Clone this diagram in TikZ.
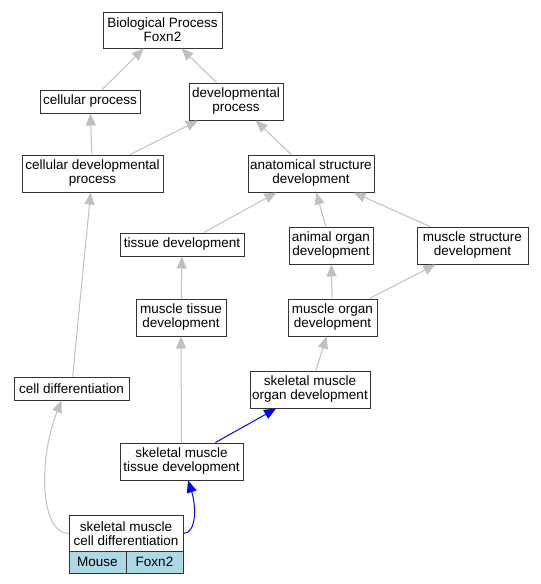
\documentclass[tikz,border=0pt]{standalone}
\usepackage{fontspec}
\setmainfont{Liberation Sans}
\usetikzlibrary{arrows.meta}

\definecolor{edgegray}{RGB}{192,192,192}
\definecolor{lightblue}{RGB}{173,216,230}

\tikzset{
    term/.style={draw=black!80, line width=1pt, rectangle, align=center, inner sep=0pt,
        font=\fontsize{13.5}{14}\selectfont},
    isa/.style={->, edgegray, line width=1pt},
    hit/.style={->, blue, line width=1pt},
}

\begin{document}
\begin{tikzpicture}[x=1pt, y=-1pt]

    \useasboundingbox (0,0) rectangle (541,584);

    \node[term, minimum width=119, minimum height=36] (bio) at (162.5,30) {Biological Process\\Foxn2};
    \node[term, minimum width=100, minimum height=23] (cellproc) at (90,101.5) {cellular process};
    \node[term, minimum width=94, minimum height=37] (devproc) at (236,101.5) {developmental\\process};
    \node[term, minimum width=141, minimum height=37] (celldev) at (92.5,173.5) {cellular developmental\\process};
    \node[term, minimum width=126, minimum height=37] (anat) at (311,173.5) {anatomical structure\\development};
    \node[term, minimum width=124, minimum height=23] (tissue) at (182,244.5) {tissue development};
    \node[term, minimum width=84, minimum height=37] (organ) at (331,245.5) {animal organ\\development};
    \node[term, minimum width=111, minimum height=37] (musstruct) at (472.5,245.5) {muscle structure\\development};
    \node[term, minimum width=90, minimum height=37] (mustissue) at (181,317.5) {muscle tissue\\development};
    \node[term, minimum width=89, minimum height=37] (musorgan) at (332.5,317.5) {muscle organ\\development};
    \node[term, minimum width=115, minimum height=23] (celldiff) at (71.5,388.5) {cell differentiation};
    \node[term, minimum width=120, minimum height=37] (skorgan) at (310,389.5) {skeletal muscle\\organ development};
    \node[term, minimum width=123, minimum height=37] (sktissue) at (181.5,461.5) {skeletal muscle\\tissue development};

    % query term with its annotation row
    \node[term, minimum width=114, minimum height=36] (skcell) at (126,533.5) {skeletal muscle\\cell differentiation};
    \node[term, fill=lightblue, minimum width=57, minimum height=22] (mouse) at (97.5,562) {Mouse};
    \node[term, fill=lightblue, minimum width=57, minimum height=22] (gene) at (154.5,562) {Foxn2};

    \begin{scope}[>={Triangle[length=12pt, width=10pt]}]
        \draw [isa] (cellproc) -- (bio);
        \draw [isa] (devproc) -- (bio);
        \draw [isa] (celldev) -- (cellproc);
        \draw [isa] (celldev) -- (devproc);
        \draw [isa] (anat) -- (devproc);
        \draw [isa] (tissue) -- (anat);
        \draw [isa] (organ) -- (anat);
        \draw [isa] (musstruct) -- (anat);
        \draw [isa] (mustissue) -- (tissue);
        \draw [isa] (musorgan) -- (organ);
        \draw [isa] (musorgan) -- (musstruct);
        \draw [isa] (celldiff) -- (celldev);
        \draw [isa] (skorgan) -- (musorgan);
        \draw [isa] (sktissue) -- (mustissue);
        \draw [hit] (sktissue) -- (skorgan);
        \draw [hit] (skcell.east) .. controls (197,533) and (196,505) .. (sktissue.-71);
        \draw [isa] (skcell.west) .. controls (40,533) and (38,460) .. (celldiff.-130);
    \end{scope}

\end{tikzpicture}
\end{document}
